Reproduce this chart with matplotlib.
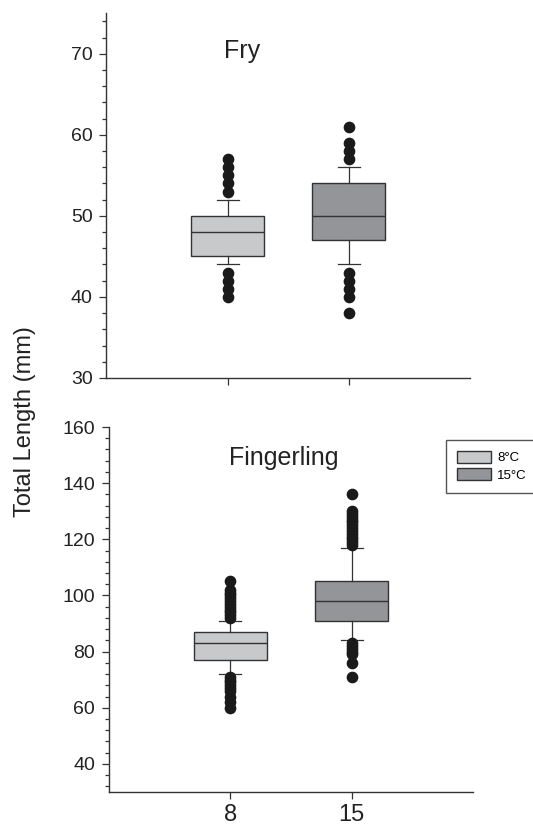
import matplotlib
matplotlib.use("Agg")
import matplotlib.pyplot as plt
from matplotlib.ticker import MultipleLocator
from matplotlib.patches import Patch

plt.rcParams['font.family'] = ['Liberation Sans', 'DejaVu Sans']

# temperature groups
temps = ['8', '15']
legend_labels = ['8°C', '15°C']
box_colors = ['#c8c9cb', '#939598']
line_col = '#333333'

# Fry: [8C, 15C] summary values
fry_q1 = [45, 47]
fry_med = [48, 50]
fry_q3 = [50, 54]
fry_lo = [44, 44]
fry_hi = [52, 56]
fry_out = [
    [40, 41, 42, 43, 53, 54, 55, 56, 57],
    [38, 40, 41, 42, 43, 57, 58, 59, 61],
]

# Fingerling
fing_q1 = [77, 91]
fing_med = [83, 98]
fing_q3 = [87, 105]
fing_lo = [72, 84]
fing_hi = [91, 117]
fing_out = [
    [60, 62, 64, 66, 67, 68, 69, 70, 71,
     92, 93, 94, 95, 96, 97, 98, 99, 100, 101, 102, 105],
    [71, 76, 79, 80, 81, 82, 83,
     118, 119, 120, 121, 122, 123, 124, 125, 126, 127, 128, 129, 130, 136],
]


def make_stats(q1, med, q3, lo, hi, out):
    stats = []
    for i in range(len(q1)):
        stats.append(dict(q1=q1[i], med=med[i], q3=q3[i],
                          whislo=lo[i], whishi=hi[i], fliers=out[i]))
    return stats


def draw_panel(ax, stats, ylim, major, minor, title, title_xy):
    bp = ax.bxp(stats, positions=[1, 2], widths=0.6, patch_artist=True,
                capwidths=0.18,
                boxprops=dict(edgecolor=line_col, linewidth=1.0),
                medianprops=dict(color=line_col, linewidth=1.0),
                whiskerprops=dict(color=line_col, linewidth=0.9),
                capprops=dict(color=line_col, linewidth=0.9),
                flierprops=dict(marker='o', markerfacecolor='#1a1a1a',
                                markeredgecolor='#1a1a1a', markersize=7.4))
    for patch, c in zip(bp['boxes'], box_colors):
        patch.set_facecolor(c)
    ax.set_xlim(0, 3)
    ax.set_ylim(*ylim)
    ax.yaxis.set_major_locator(MultipleLocator(major))
    ax.yaxis.set_minor_locator(MultipleLocator(minor))
    for s in ['top', 'right']:
        ax.spines[s].set_visible(False)
    for s in ['left', 'bottom']:
        ax.spines[s].set_color(line_col)
        ax.spines[s].set_linewidth(1.0)
    ax.tick_params(axis='y', which='major', length=5, width=0.9, color=line_col,
                   labelsize=14, pad=5, labelcolor='#222222')
    ax.tick_params(axis='y', which='minor', length=3, width=0.9, color=line_col)
    ax.tick_params(axis='x', length=5, width=0.9, color=line_col,
                   labelsize=17, pad=4, labelcolor='#222222')
    ax.text(title_xy[0], title_xy[1], title, fontsize=18, color='#222222',
            ha='center', va='center')


fig = plt.figure(figsize=(5.33, 8.26), dpi=100)

ax1 = fig.add_axes([0.1998, 0.5424, 0.682, 0.4416])
draw_panel(ax1, make_stats(fry_q1, fry_med, fry_q3, fry_lo, fry_hi, fry_out),
           (30, 75), 10, 2, 'Fry', (1.12, 70.3))
ax1.set_xticks([1, 2])
ax1.set_xticklabels(['', ''])

ax2 = fig.add_axes([0.2045, 0.0412, 0.6829, 0.4418])
draw_panel(ax2, make_stats(fing_q1, fing_med, fing_q3, fing_lo, fing_hi, fing_out),
           (30, 160), 20, 4, 'Fingerling', (1.44, 149))
ax2.set_yticks(range(40, 161, 20))
ax2.set_xticks([1, 2])
ax2.set_xticklabels(temps)

fig.text(0.047, 0.49, 'Total Length (mm)', rotation=90, fontsize=17,
         color='#222222', ha='center', va='center')

handles = [Patch(facecolor=c, edgecolor=line_col, linewidth=1.0) for c in box_colors]
fig.legend(handles, legend_labels, loc='upper left',
           bbox_to_anchor=(445.7 / 533, 1 - 440 / 826), borderaxespad=0,
           fontsize=9.5, fancybox=False, edgecolor='#555555', framealpha=1,
           handlelength=2.6, handleheight=0.95, handletextpad=0.45,
           labelspacing=0.3, borderpad=0.85)

fig.savefig('out.png', dpi=100)
